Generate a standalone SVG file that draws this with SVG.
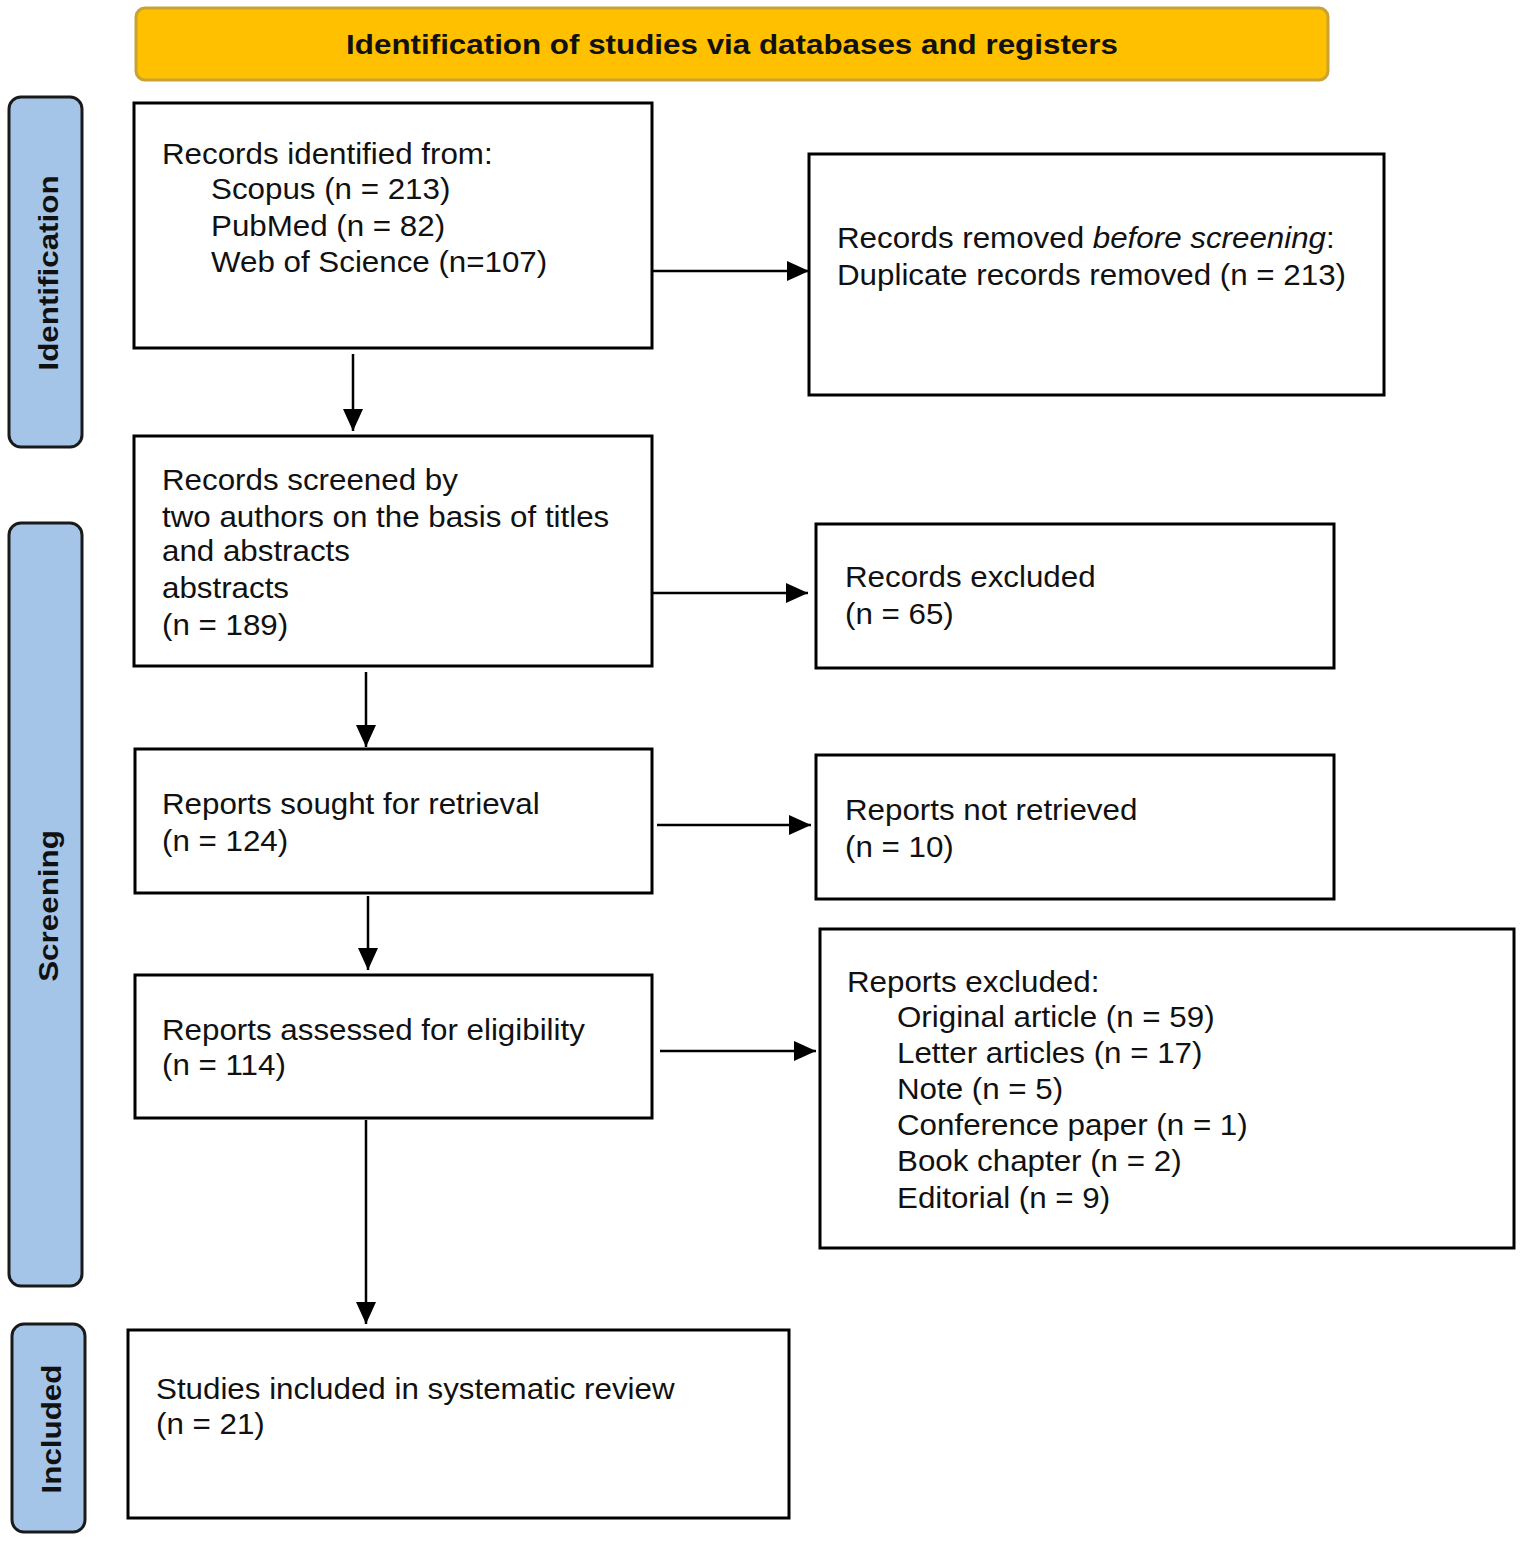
<svg xmlns="http://www.w3.org/2000/svg" width="1535" height="1565" viewBox="0 0 1535 1565">
<style>
.box{fill:#fff;stroke:#000;stroke-width:3}
.side{fill:#a4c4e8;stroke:#1a1a1a;stroke-width:3}
.t{font-family:"Liberation Sans",Arial,sans-serif;font-size:29px;fill:#111}
.s{font-family:"Liberation Sans",Arial,sans-serif;font-size:28px;font-weight:bold;fill:#111}
.c{stroke:#000;stroke-width:2.5;fill:none;marker-end:url(#ah)}
</style>
<defs>
<marker id="ah" markerUnits="userSpaceOnUse" markerWidth="24" markerHeight="24" viewBox="0 0 24 24" refX="22" refY="12" orient="auto">
<path d="M0,2 L22,12 L0,22 Z" fill="#000"/>
</marker>
</defs>
<rect width="1535" height="1565" fill="#fff"/>
<g id="header">
<rect x="136" y="8" width="1192" height="72" rx="9" fill="#ffc000" stroke="#c8a232" stroke-width="3"/>
<text class="s" x="732" y="54" text-anchor="middle" transform="matrix(1.12 0 0 1 -87.84 0)">Identification of studies via databases and registers</text>
</g>
<g id="side-identification">
<rect class="side" x="9" y="97" width="73" height="350" rx="12"/>
<text class="s" transform="translate(58,273) rotate(-90) scale(1.12,1)" text-anchor="middle">Identification</text>
</g>
<g id="side-screening">
<rect class="side" x="9" y="523" width="73" height="763" rx="12"/>
<text class="s" transform="translate(58,906) rotate(-90) scale(1.12,1)" text-anchor="middle">Screening</text>
</g>
<g id="side-included">
<rect class="side" x="12" y="1324" width="73" height="208" rx="12"/>
<text class="s" transform="translate(61,1429) rotate(-90) scale(1.12,1)" text-anchor="middle">Included</text>
</g>
<g id="records-identified">
<rect class="box" x="134" y="103" width="518" height="245"/>
<g transform="matrix(1.08 0 0 1 -12.96 0)">
<text class="t" x="162" y="164">Records identified from:</text>
<text class="t" x="207.4" y="199">Scopus (n = 213)</text>
<text class="t" x="207.4" y="236">PubMed (n = 82)</text>
<text class="t" x="207.4" y="272">Web of Science (n=107)</text>
</g>
</g>
<g id="records-removed">
<rect class="box" x="809" y="154" width="575" height="241"/>
<g transform="matrix(1.08 0 0 1 -66.96 0)">
<text class="t" x="837" y="248">Records removed <tspan font-style="italic">before screening</tspan>:</text>
<text class="t" x="837" y="285">Duplicate records removed (n = 213)</text>
</g>
</g>
<g id="records-screened">
<rect class="box" x="134" y="436" width="518" height="230"/>
<g transform="matrix(1.08 0 0 1 -12.96 0)">
<text class="t" x="162" y="490">Records screened by</text>
<text class="t" x="162" y="527">two authors on the basis of titles</text>
<text class="t" x="162" y="561">and abstracts</text>
<text class="t" x="162" y="598">abstracts</text>
<text class="t" x="162" y="635">(n = 189)</text>
</g>
</g>
<g id="records-excluded">
<rect class="box" x="816" y="524" width="518" height="144"/>
<g transform="matrix(1.08 0 0 1 -67.6 0)">
<text class="t" x="845" y="587">Records excluded</text>
<text class="t" x="845" y="624">(n = 65)</text>
</g>
</g>
<g id="reports-sought">
<rect class="box" x="135" y="749" width="517" height="144"/>
<g transform="matrix(1.08 0 0 1 -12.96 0)">
<text class="t" x="162" y="814">Reports sought for retrieval</text>
<text class="t" x="162" y="851">(n = 124)</text>
</g>
</g>
<g id="reports-not-retrieved">
<rect class="box" x="816" y="755" width="518" height="144"/>
<g transform="matrix(1.08 0 0 1 -67.6 0)">
<text class="t" x="845" y="820">Reports not retrieved</text>
<text class="t" x="845" y="857">(n = 10)</text>
</g>
</g>
<g id="reports-assessed">
<rect class="box" x="135" y="975" width="517" height="143"/>
<g transform="matrix(1.08 0 0 1 -12.96 0)">
<text class="t" x="162" y="1040">Reports assessed for eligibility</text>
<text class="t" x="162" y="1075">(n = 114)</text>
</g>
</g>
<g id="reports-excluded">
<rect class="box" x="820" y="929" width="694" height="319"/>
<g transform="matrix(1.08 0 0 1 -67.76 0)">
<text class="t" x="847" y="992">Reports excluded:</text>
<text class="t" x="893.3" y="1027">Original article (n = 59)</text>
<text class="t" x="893.3" y="1063">Letter articles (n = 17)</text>
<text class="t" x="893.3" y="1099">Note (n = 5)</text>
<text class="t" x="893.3" y="1135">Conference paper (n = 1)</text>
<text class="t" x="893.3" y="1171">Book chapter (n = 2)</text>
<text class="t" x="893.3" y="1208">Editorial (n = 9)</text>
</g>
</g>
<g id="studies-included">
<rect class="box" x="128" y="1330" width="661" height="188"/>
<g transform="matrix(1.08 0 0 1 -12.48 0)">
<text class="t" x="156" y="1399">Studies included in systematic review</text>
<text class="t" x="156" y="1434">(n = 21)</text>
</g>
</g>
<g id="connectors">
<line class="c" x1="652" y1="271" x2="809" y2="271"/>
<line class="c" x1="353" y1="354" x2="353" y2="431"/>
<line class="c" x1="652" y1="593" x2="808" y2="593"/>
<line class="c" x1="366" y1="672" x2="366" y2="747"/>
<line class="c" x1="657" y1="825" x2="811" y2="825"/>
<line class="c" x1="368" y1="896" x2="368" y2="970"/>
<line class="c" x1="660" y1="1051" x2="816" y2="1051"/>
<line class="c" x1="366" y1="1120" x2="366" y2="1324"/>
</g>
</svg>
